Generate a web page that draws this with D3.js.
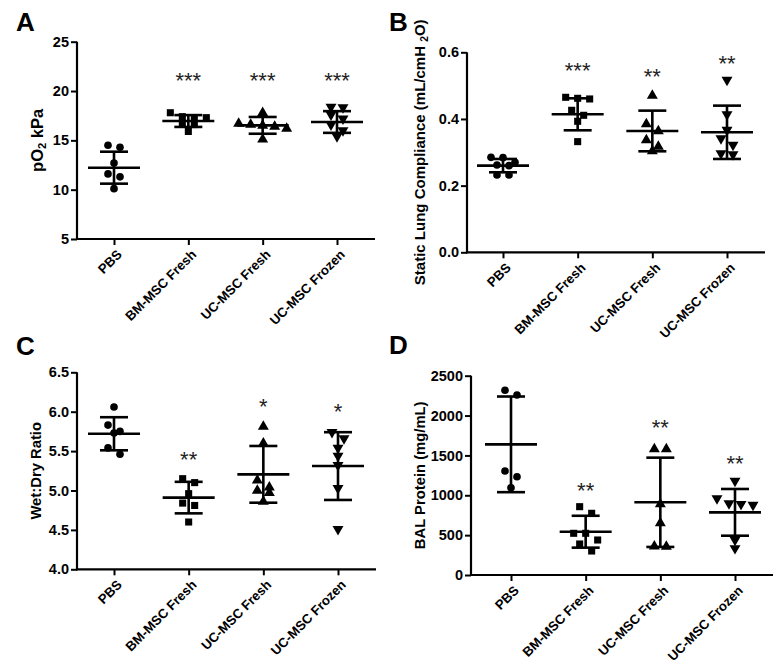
<!DOCTYPE html>
<html><head><meta charset="utf-8">
<script src="https://cdn.jsdelivr.net/npm/d3@7"></script>
<style>body{margin:0;background:#fff}svg{display:block}</style>
</head><body>
<svg id="c" width="783" height="671"></svg>
<script>
// ---------- DATA ----------
const categories = ["PBS", "BM-MSC Fresh", "UC-MSC Fresh", "UC-MSC Frozen"];
const symbolsByGroup = ["circle", "square", "triangle", "triangleDown"];

// Panel A: pO2 kPa
const pO2Values = [
  [14.5, 14.3, 12.7, 11.6, 11.3, 10.1],
  [17.8, 17.4, 17.3, 17.3, 16.7, 16.6, 15.9],
  [17.8, 16.7, 16.6, 16.5, 16.4, 16.2, 15.1],
  [18.4, 18.35, 17.6, 17.2, 16.6, 16.0, 15.4]
];
const pO2Means = [12.23, 16.96, 16.52, 16.86];
const pO2SDs = [1.62, 0.6, 0.85, 1.1];
const pO2Stars = ["", "***", "***", "***"];
const pO2StarAt = [null, 21.6, 21.6, 21.6];
const pO2Ticks = [5, 10, 15, 20, 25];

// Panel B: static lung compliance
const complianceValues = [
  [0.285, 0.284, 0.27, 0.262, 0.26, 0.232, 0.232],
  [0.465, 0.462, 0.46, 0.426, 0.411, 0.393, 0.332],
  [0.47, 0.385, 0.364, 0.337, 0.317, 0.304],
  [0.517, 0.414, 0.367, 0.342, 0.322, 0.297, 0.294]
];
const complianceMeans = [0.26, 0.414, 0.364, 0.36];
const complianceSDs = [0.02, 0.048, 0.061, 0.08];
const complianceStars = ["", "***", "**", "**"];
const complianceStarAt = [null, 0.562, 0.542, 0.582];
const complianceTicks = [0.0, 0.2, 0.4, 0.6];

// Panel C: wet:dry ratio
const wetDryValues = [
  [6.06, 5.83, 5.75, 5.73, 5.54, 5.46],
  [5.15, 5.1, 4.96, 4.84, 4.81, 4.6],
  [5.81, 5.6, 5.13, 5.04, 5.0, 4.97, 4.86],
  [5.74, 5.66, 5.54, 5.44, 5.32, 5.03, 4.51]
];
const wetDryMeans = [5.72, 4.91, 5.205, 5.31];
const wetDrySDs = [0.21, 0.2, 0.36, 0.43];
const wetDryStars = ["", "**", "*", "*"];
const wetDryStarAt = [null, 5.46, 6.136, 6.07];
const wetDryTicks = [4.0, 4.5, 5.0, 5.5, 6.0, 6.5];

// Panel D: BAL protein
const balValues = [
  [2317, 2258, 1304, 1233, 1095],
  [857, 774, 523, 523, 439, 389, 301],
  [1580, 1580, 890, 650, 360, 355],
  [1179, 962, 899, 890, 878, 439, 335]
];
const balMeans = [1639, 543, 912, 786];
const balSDs = [600, 200, 560, 293];
const balStars = ["", "**", "**", "**"];
const balStarAt = [null, 1129, 1910, 1464];
const balTicks = [0, 500, 1000, 1500, 2000, 2500];

// ---------- LAYOUT ----------
const panels = [
  {letter:"A", lx:16, ly:31, left:77, right:375, top:41.7, bottom:239, x0:114, x1:337,
   domain:[5,25], ticks:pO2Ticks, fmt:d3.format("d"), values:pO2Values, means:pO2Means, sds:pO2SDs,
   stars:pO2Stars, starAt:pO2StarAt, labX:37, labSize:16.5, label:[["pO"],["2","sub"],[" kPa"]]},
  {letter:"B", lx:389, ly:31, left:467, right:765, top:52.3, bottom:252.3, x0:503, x1:727,
   domain:[0,0.6], ticks:complianceTicks, fmt:d3.format(".1f"), values:complianceValues, means:complianceMeans, sds:complianceSDs,
   stars:complianceStars, starAt:complianceStarAt, labX:420, labSize:15, label:[["Static Lung Compliance (mL/cmH "],["2","sub"],["O)"]]},
  {letter:"C", lx:16, ly:355, left:77, right:376, top:372.3, bottom:569.3, x0:114, x1:338,
   domain:[4,6.5], ticks:wetDryTicks, fmt:d3.format(".1f"), values:wetDryValues, means:wetDryMeans, sds:wetDrySDs,
   stars:wetDryStars, starAt:wetDryStarAt, labX:35.5, labSize:14.8, label:[["Wet:Dry Ratio"]]},
  {letter:"D", lx:389, ly:354, left:471, right:773, top:375.7, bottom:575, x0:511, x1:735,
   domain:[0,2500], ticks:balTicks, fmt:d3.format("d"), values:balValues, means:balMeans, sds:balSDs,
   stars:balStars, starAt:balStarAt, labX:420, labSize:14.8, label:[["BAL Protein (mg/mL)"]]}
];

const svg = d3.select("#c");
const FONT = "'Liberation Sans', Arial, sans-serif";
const symType = {circle:d3.symbolCircle, square:d3.symbolSquare, triangle:d3.symbolTriangle, triangleDown:d3.symbolTriangle};
const symSize = {circle:46, square:50, triangle:52, triangleDown:52};

panels.forEach(p => {
  const g = svg.append("g");
  const x = d3.scalePoint().domain(categories).range([p.x0, p.x1]);
  const y = d3.scaleLinear().domain(p.domain).range([p.bottom, p.top]);

  // panel letter
  g.append("text").attr("x", p.lx).attr("y", p.ly).attr("font-family", FONT)
    .attr("font-weight", "bold").attr("font-size", 26).text(p.letter);

  // y axis
  const ya = g.append("g").attr("transform", `translate(${p.left},0)`)
    .call(d3.axisLeft(y).tickValues(p.ticks).tickFormat(p.fmt).tickSize(6).tickSizeOuter(0).tickPadding(2));
  ya.select(".domain").attr("stroke-width", 2.2).attr("d", `M0,${p.top}V${p.bottom + 1}`);
  ya.selectAll(".tick line").attr("stroke-width", 2);
  ya.selectAll(".tick text").attr("font-family", FONT).attr("font-weight", "bold").attr("font-size", 14.5).attr("fill", "#000");

  // x axis
  const xa = g.append("g").attr("transform", `translate(0,${p.bottom})`)
    .call(d3.axisBottom(x).tickSize(6).tickSizeOuter(0));
  xa.select(".domain").attr("stroke-width", 2.2).attr("d", `M${p.left - 1},0H${p.right}`);
  xa.selectAll(".tick line").attr("stroke-width", 2);
  xa.selectAll(".tick text").attr("font-family", FONT).attr("font-weight", "bold").attr("font-size", 13.2)
    .attr("fill", "#000").attr("text-anchor", "end")
    .attr("transform", "translate(5,13) rotate(-45)").attr("x", 0).attr("y", 0).attr("dy", "0.35em");

  // y label
  const lab = g.append("text").attr("font-family", FONT).attr("font-weight", "bold").attr("font-size", p.labSize)
    .attr("text-anchor", "middle")
    .attr("transform", `translate(${p.labX},${(p.top + p.bottom) / 2}) rotate(-90)`).attr("dy", "0.35em");
  p.label.forEach(([t, kind]) => {
    const ts = lab.append("tspan").text(t);
    if (kind === "sub") ts.attr("font-size", p.labSize * 0.68).attr("baseline-shift", "-25%");
  });

  // points, mean, SD
  categories.forEach((cat, gi) => {
    const cx = x(cat);
    const vals = p.values[gi].slice().sort((a, b) => b - a);
    // arrange into rows of near-equal values, spread symmetrically
    const rows = [];
    vals.forEach(v => {
      const py = y(v);
      const last = rows[rows.length - 1];
      if (last && Math.abs(last.y0 - py) < 7.5) last.items.push(v);
      else rows.push({y0: py, items: [v]});
    });
    const sname = symbolsByGroup[gi];
    const sym = d3.symbol().type(symType[sname]).size(symSize[sname]);
    rows.forEach(r => {
      const n = r.items.length;
      r.items.forEach((v, k) => {
        const ox = (k - (n - 1) / 2) * 12;
        g.append("path").attr("d", sym())
          .attr("transform", `translate(${cx + ox},${y(v)})${sname === "triangleDown" ? " rotate(180)" : ""}`)
          .attr("fill", "#000");
      });
    });
    const m = p.means[gi], s = p.sds[gi];
    const lw = 2.6;
    g.append("line").attr("x1", cx - 26).attr("x2", cx + 26).attr("y1", y(m)).attr("y2", y(m))
      .attr("stroke", "#000").attr("stroke-width", lw);
    g.append("line").attr("x1", cx).attr("x2", cx).attr("y1", y(m + s)).attr("y2", y(m - s))
      .attr("stroke", "#000").attr("stroke-width", lw);
    [m + s, m - s].forEach(v => g.append("line").attr("x1", cx - 14).attr("x2", cx + 14)
      .attr("y1", y(v)).attr("y2", y(v)).attr("stroke", "#000").attr("stroke-width", lw));
    if (p.stars[gi]) {
      g.append("text").attr("x", cx).attr("y", y(p.starAt[gi]) + 0.58 * 22)
        .attr("text-anchor", "middle").attr("font-family", FONT).attr("font-size", 22)
        .attr("fill", "#222").text(p.stars[gi]);
    }
  });
});
</script>
</body></html>
